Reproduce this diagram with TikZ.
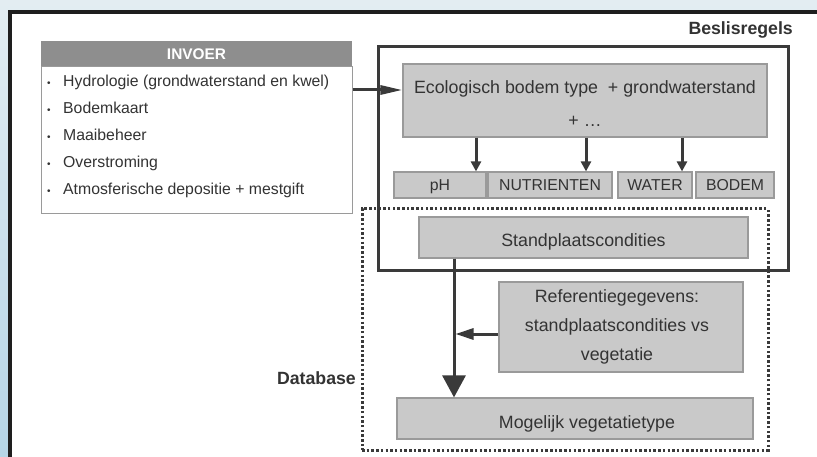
\documentclass[tikz,border=0pt]{standalone}
\usepackage{fontspec}
\setmainfont{Liberation Sans}
\usetikzlibrary{arrows.meta}
\definecolor{bgtop}{HTML}{E3EDF2}
\definecolor{bgbot}{HTML}{B6D5E6}
\definecolor{framecol}{HTML}{1E1E1E}
\definecolor{darkline}{HTML}{3A3A3A}
\definecolor{boxfill}{HTML}{C9C9C9}
\definecolor{boxdraw}{HTML}{9A9A9A}
\definecolor{headfill}{HTML}{8E8E8E}
\definecolor{txtcol}{HTML}{333333}
\begin{document}
\begin{tikzpicture}[x=1pt,y=-1pt,
  graybox/.style={draw=boxdraw, fill=boxfill, line width=1.2pt, inner sep=0pt, rectangle},
  lbl/.style={anchor=base, inner sep=0pt, text=txtcol},
  bigtxt/.style={font=\fontsize{17.8}{29}\selectfont},
  smalltxt/.style={font=\fontsize{15.8}{27}\selectfont},
  boldtxt/.style={font=\bfseries\fontsize{17.7}{20}\selectfont},
  arr/.style={draw=darkline, line width=3pt, -{Triangle[length=10pt,width=10pt]}},
  bigarr/.style={draw=darkline, line width=3pt, -{Triangle[length=22pt,width=23pt]}},
  item/.style={anchor=base west, inner sep=0pt, text=txtcol, font=\fontsize{15.8}{27}\selectfont}
]
\useasboundingbox (0,0) rectangle (817,457);
\shade[top color=bgtop, bottom color=bgbot] (0,0) rectangle (817,457);
\fill[white] (10,12) rectangle (817,457);
\draw[framecol, line width=4pt] (10,460) -- (10,12) -- (820,12);

% INVOER
\node[rectangle, fill=headfill, minimum width=311pt, minimum height=26pt, inner sep=0pt] (head) at (196.5,54) {};
\node[lbl, text=white, font=\bfseries\fontsize{15.4}{18}\selectfont] (headt) at (196.5,60) {INVOER};
\node[rectangle, draw=boxdraw, fill=white, line width=1pt, minimum width=311pt, minimum height=147pt, inner sep=0pt] (list) at (196.5,140.5) {};
\node[item] (i1) at (47,87) {\makebox[16pt][l]{\fontsize{10}{10}\selectfont•}Hydrologie (grondwaterstand en kwel)};
\node[item] (i2) at (47,114) {\makebox[16pt][l]{\fontsize{10}{10}\selectfont•}Bodemkaart};
\node[item] (i3) at (47,141) {\makebox[16pt][l]{\fontsize{10}{10}\selectfont•}Maaibeheer};
\node[item] (i4) at (47,168) {\makebox[16pt][l]{\fontsize{10}{10}\selectfont•}Overstroming};
\node[item] (i5) at (47,195) {\makebox[16pt][l]{\fontsize{10}{10}\selectfont•}Atmosferische depositie + mestgift};

% Beslisregels frame
\node[rectangle, draw=darkline, line width=3pt, minimum width=410pt, minimum height=224pt, inner sep=0pt] (beslis) at (583,159) {};
\node[lbl, anchor=base east, boldtxt] (beslist) at (793,35) {Beslisregels};

% Database frame
\node[rectangle, draw=darkline, line width=3pt, dash pattern=on 2.5pt off 2.2pt, minimum width=406pt, minimum height=241pt, inner sep=0pt] (db) at (565,329.5) {};
\node[lbl, anchor=base east, boldtxt] (dbt) at (356,384) {Database};

% Ecologisch box
\node[graybox, minimum width=364pt, minimum height=73pt] (eco) at (585,100.5) {};
\node[lbl, align=center, font=\fontsize{17.8}{33}\selectfont] (ecot) at (585,127) {Ecologisch bodem type\ \ + grondwaterstand\\+ \ldots};

% small boxes
\node[graybox, minimum width=92pt, minimum height=26pt] (ph) at (440,185) {};
\node[graybox, minimum width=124pt, minimum height=26pt] (nut) at (550,185) {};
\node[graybox, minimum width=74pt, minimum height=26pt] (wat) at (655,185) {};
\node[graybox, minimum width=78pt, minimum height=26pt] (bod) at (735,185) {};
\node[lbl, smalltxt] (pht) at (440,191) {pH};
\node[lbl, smalltxt] (nutt) at (550,191) {NUTRIENTEN};
\node[lbl, smalltxt] (watt) at (655,191) {WATER};
\node[lbl, smalltxt] (bodt) at (735,191) {BODEM};

% Standplaatscondities
\node[graybox, minimum width=329pt, minimum height=41pt] (stand) at (583.5,237.5) {};
\node[lbl, bigtxt] (standt) at (583.5,247) {Standplaatscondities};

% Referentie
\node[graybox, minimum width=244pt, minimum height=90pt] (ref) at (621,327) {};
\node[lbl, bigtxt, align=center] (reft) at (617,360) {Referentiegegevens:\\standplaatscondities vs\\vegetatie};

% Mogelijk
\node[graybox, minimum width=356pt, minimum height=41pt] (mog) at (575,418.5) {};
\node[lbl, bigtxt] (mogt) at (587,428) {Mogelijk vegetatietype};

% connectors
\coordinate (ca) at (0,90);
\draw[arr, -{Triangle[length=22pt,width=9pt]}] (list.east |- ca) -- (eco.west |- ca);
\coordinate (c1) at (476,0);
\coordinate (c2) at (586,0);
\coordinate (c3) at (682,0);
\draw[arr] (eco.south -| c1) -- (ph.north -| c1);
\draw[arr] (eco.south -| c2) -- (nut.north -| c2);
\draw[arr] (eco.south -| c3) -- (wat.north -| c3);
\coordinate (cv) at (454,0);
\draw[bigarr] (stand.south -| cv) -- (mog.north -| cv);
\coordinate (cr) at (0,334);
\draw[arr, -{Triangle[length=18pt,width=11pt]}] (ref.west |- cr) -- ([xshift=1.5pt]cv |- cr);
\end{tikzpicture}
\end{document}
